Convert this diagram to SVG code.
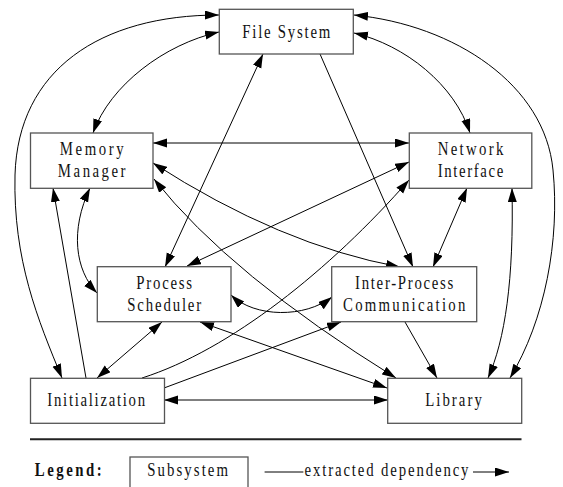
<svg xmlns="http://www.w3.org/2000/svg" width="563" height="487" viewBox="0 0 563 487">
<style>
.box{fill:#fff;stroke:#555;stroke-width:1.3}
.t{font-family:"Liberation Serif","Times New Roman",serif;font-size:18.5px;fill:#111;text-anchor:middle}
.s{text-anchor:start}
.e{fill:none;stroke:#000;stroke-width:1}
.b{marker-start:url(#ah);marker-end:url(#ah)}
.o{marker-end:url(#ah)}
</style>
<defs>
<marker id="ah" markerUnits="userSpaceOnUse" markerWidth="15" markerHeight="10" refX="14" refY="4.5" orient="auto-start-reverse"><path d="M0,0 L14,4.5 L0,9 z" fill="#000"/></marker>
</defs>
<g id="connectors">
<path class="e b" d="M219,15 C100,15 18,70 15,175 C13,260 38,320 62,378"/>
<path class="e b" d="M219,32 C165,44 110,85 93,133"/>
<path class="e b" d="M263,54 L165,267"/>
<path class="e o" d="M320,54 L413,267"/>
<path class="e b" d="M354,33 C405,45 455,85 470,133"/>
<path class="e b" d="M354,15 C455,25 545,85 553,170 C560,240 545,320 510,378"/>
<path class="e b" d="M153,143 L409,143"/>
<path class="e b" d="M153,163 Q280,245 400,267"/>
<path class="e b" d="M154,179 Q230,275 396,378"/>
<path class="e o" d="M142,378 C230,350 330,270 409,180"/>
<path class="e b" d="M409,162 L187,266"/>
<path class="e b" d="M467,188 L433,267"/>
<path class="e b" d="M512,188 C514,280 505,340 488,378"/>
<path class="e o" d="M86,378 L53,188"/>
<path class="e b" d="M90,188 C70,230 75,270 97,293"/>
<path class="e b" d="M231,295 C255,318 305,318 332,297"/>
<path class="e b" d="M162,322 L97,378"/>
<path class="e b" d="M200,322 L387,388"/>
<path class="e o" d="M164,388 L341,322"/>
<path class="e o" d="M405,322 L437,378"/>
<path class="e b" d="M164,400 L388,400"/>
</g>
<g id="file-system"><rect class="box" x="219.3" y="9.3" width="134" height="44.7"/><text class="t" transform="translate(286.3,37.7) scale(0.8,1)" textLength="110" lengthAdjust="spacing">File System</text></g>
<g id="memory-manager"><rect class="box" x="30.5" y="133" width="122.5" height="55.3"/><text class="t" transform="translate(91.7,155) scale(0.8,1)" textLength="80" lengthAdjust="spacing">Memory</text><text class="t" transform="translate(91.7,177) scale(0.8,1)" textLength="84.6" lengthAdjust="spacing">Manager</text></g>
<g id="network-interface"><rect class="box" x="409.3" y="133" width="122.5" height="55.3"/><text class="t" transform="translate(470.5,155) scale(0.8,1)" textLength="82.1" lengthAdjust="spacing">Network</text><text class="t" transform="translate(470.5,177) scale(0.8,1)" textLength="82.1" lengthAdjust="spacing">Interface</text></g>
<g id="process-scheduler"><rect class="box" x="97.3" y="266.7" width="133.7" height="55"/><text class="t" transform="translate(164.2,288.7) scale(0.8,1)" textLength="69.6" lengthAdjust="spacing">Process</text><text class="t" transform="translate(164.2,310.7) scale(0.8,1)" textLength="92.5" lengthAdjust="spacing">Scheduler</text></g>
<g id="inter-process-communication"><rect class="box" x="331.7" y="266.7" width="145" height="55"/><text class="t" transform="translate(404.2,288.7) scale(0.8,1)" textLength="122.9" lengthAdjust="spacing">Inter-Process</text><text class="t" transform="translate(404.2,310.7) scale(0.8,1)" textLength="152.9" lengthAdjust="spacing">Communication</text></g>
<g id="initialization"><rect class="box" x="30.5" y="378.3" width="134" height="45"/><text class="t" transform="translate(96.2,406) scale(0.8,1)" textLength="122.1" lengthAdjust="spacing">Initialization</text></g>
<g id="library"><rect class="box" x="387.7" y="378.3" width="134" height="45"/><text class="t" transform="translate(453.5,406) scale(0.8,1)" textLength="70.9" lengthAdjust="spacing">Library</text></g>
<g id="legend">
<line x1="30" y1="439.3" x2="521.5" y2="439.3" stroke="#222" stroke-width="2"/>
<text class="t s" transform="translate(34.8,476) scale(0.8,1)" style="font-weight:bold" textLength="83.5" lengthAdjust="spacing">Legend:</text>
<rect class="box" x="130" y="457" width="118" height="40"/>
<text class="t" transform="translate(187.6,476) scale(0.8,1)" textLength="101" lengthAdjust="spacing">Subsystem</text>
<line x1="264.6" y1="472" x2="303.4" y2="472" stroke="#000" stroke-width="1"/>
<text class="t s" transform="translate(304.5,476) scale(0.8,1)" textLength="205" lengthAdjust="spacing">extracted dependency</text>
<path class="e o" d="M473,472 L509,472"/>
</g>
</svg>
